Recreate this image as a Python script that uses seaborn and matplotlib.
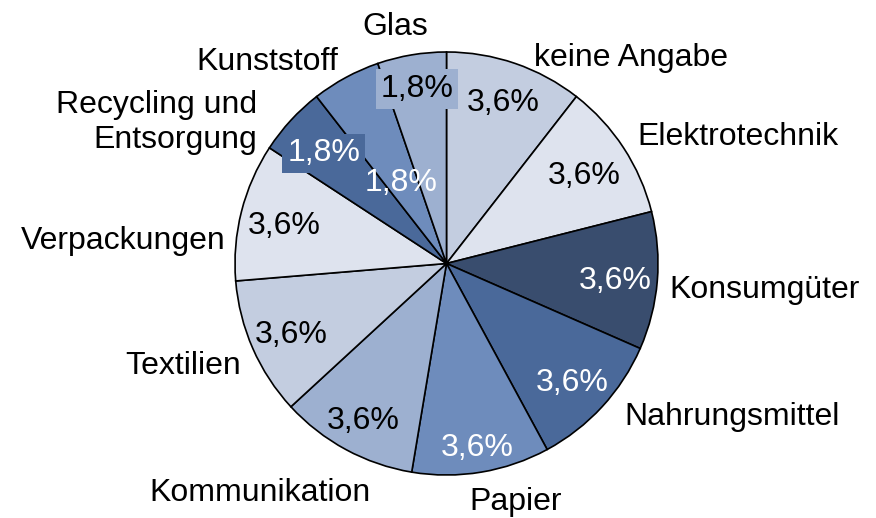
import numpy as np
import matplotlib
matplotlib.use("Agg")
import matplotlib.pyplot as plt
import matplotlib.transforms as mtransforms
import seaborn as sns

# ---- data ----
categories = ["keine Angabe", "Elektrotechnik", "Konsumgüter", "Nahrungsmittel",
              "Papier", "Kommunikation", "Textilien", "Verpackungen",
              "Recycling und\nEntsorgung", "Kunststoff", "Glas"]
values = [3.6, 3.6, 3.6, 3.6, 3.6, 3.6, 3.6, 3.6, 1.8, 1.8, 1.8]
pct_labels = ["3,6%", "3,6%", "3,6%", "3,6%", "3,6%", "3,6%", "3,6%", "3,6%",
              "1,8%", "1,8%", "1,8%"]

# ---- style ----
sns.set_style("white")
plt.rcParams['font.family'] = ['Liberation Sans', 'DejaVu Sans']

colors = ["#c3cde0", "#dee3ee", "#394d6e", "#4a699a", "#6e8cbc", "#9db0d0",
          "#c3cde0", "#dee3ee", "#4a699a", "#6e8cbc", "#9db0d0"]
pct_colors = ["black", "black", "white", "white", "white", "black", "black",
              "black", "white", "white", "black"]
pct_dist = [0.82, 0.78, 0.80, 0.81, 0.87, 0.83, 0.80, 0.79, 0.79, 0.45, 0.85]
pct_box = [False, False, False, False, False, False, False, False, True, False, True]
# label text centres in pie-radius units
label_pos = [(0.872, 0.985), (1.376, 0.612), (1.504, -0.112), (1.348, -0.713),
             (0.329, -1.112), (-0.882, -1.072), (-1.246, -0.472), (-1.530, 0.119),
             (-0.896, 0.682), (-0.849, 0.966), (-0.243, 1.131)]
label_ha = ["center"] * 8 + ["right", "center", "center"]

W, H = 876, 518
cx, cy, R = 446.5, 263.5, 211.5
fig = plt.figure(figsize=(W / 100, H / 100), dpi=100)
ax = fig.add_axes([(cx - R) / W, (H - cy - R) / H, 2 * R / W, 2 * R / H])

wedges, _ = ax.pie(values, colors=colors, startangle=90, counterclock=False,
                   radius=1.0,
                   wedgeprops=dict(edgecolor="black", linewidth=1.2))
for w in wedges:
    w.set_clip_on(False)
ax.set_xlim(-1, 1)
ax.set_ylim(-1, 1)
ax.axis("off")

# shift text down slightly so cap-height centres sit on the anchor points
tshift = mtransforms.offset_copy(ax.transData, fig=fig, x=0, y=-2.2, units="points")

fs = 23
for i, w in enumerate(wedges):
    mid = np.deg2rad((w.theta1 + w.theta2) / 2)
    d = pct_dist[i]
    x, y = d * np.cos(mid), d * np.sin(mid)
    kw = {}
    if pct_box[i]:
        kw["bbox"] = dict(boxstyle="square,pad=0.15", facecolor=colors[i],
                          edgecolor="none")
    ax.text(x, y, pct_labels[i], ha="center", va="center", fontsize=fs,
            color=pct_colors[i], clip_on=False, transform=tshift, **kw)
    lx, ly = label_pos[i]
    ax.text(lx, ly, categories[i], ha=label_ha[i], va="center",
            multialignment="right", fontsize=fs, color="black",
            clip_on=False, linespacing=1.2, transform=tshift)

fig.savefig("out.png", dpi=100)
